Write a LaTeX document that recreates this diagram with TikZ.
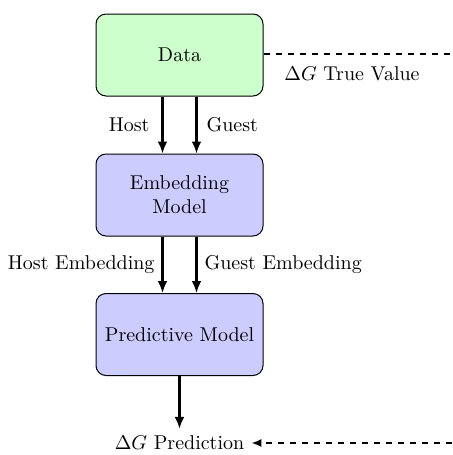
\documentclass[tikz,border=0pt]{standalone}
\usetikzlibrary{arrows.meta}
\begin{document}
\begin{tikzpicture}[x=0.5pt,y=-0.5pt,
  box/.style={draw, rounded corners=5pt, minimum width=83.5pt, minimum height=41pt, align=center, line width=0.5pt},
  flow/.style={-{Latex[length=6pt,width=5pt]}, line width=1.4pt},
  dflow/.style={dashed, line width=1.1pt}]
\useasboundingbox (0,0) rectangle (452,455);
\node[box, fill=green!20] (data) at (179.5,55) {Data};
\node[box, fill=blue!20] (emb) at (179.5,195) {Embedding\\Model};
\node[box, fill=blue!20] (pred) at (179.5,334.5) {Predictive Model};
\node (out) at (179.5,443) {$\Delta G$ Prediction};
\coordinate (tr) at (452,54);
\coordinate (br) at (452,443);
\draw[flow] ([xshift=-8.5pt]data.south) -- node[left, xshift=-2.5pt] {Host} ([xshift=-8.5pt]emb.north);
\draw[flow] ([xshift=8.5pt]data.south) -- node[right, xshift=1pt] {Guest} ([xshift=8.5pt]emb.north);
\draw[flow] ([xshift=-8.5pt]emb.south) -- node[left] {Host Embedding} ([xshift=-8.5pt]pred.north);
\draw[flow] ([xshift=8.5pt]emb.south) -- node[right] {Guest Embedding} ([xshift=8.5pt]pred.north);
\draw[flow] (pred.south) -- (out.north);
\draw[dflow] (data.east |- tr) -- (tr);
\node (tv) at (352,74) {$\Delta G$ True Value};
\draw[dflow, -{Latex[length=5pt,width=4pt]}] (br) -- (out.east);
\end{tikzpicture}
\end{document}
